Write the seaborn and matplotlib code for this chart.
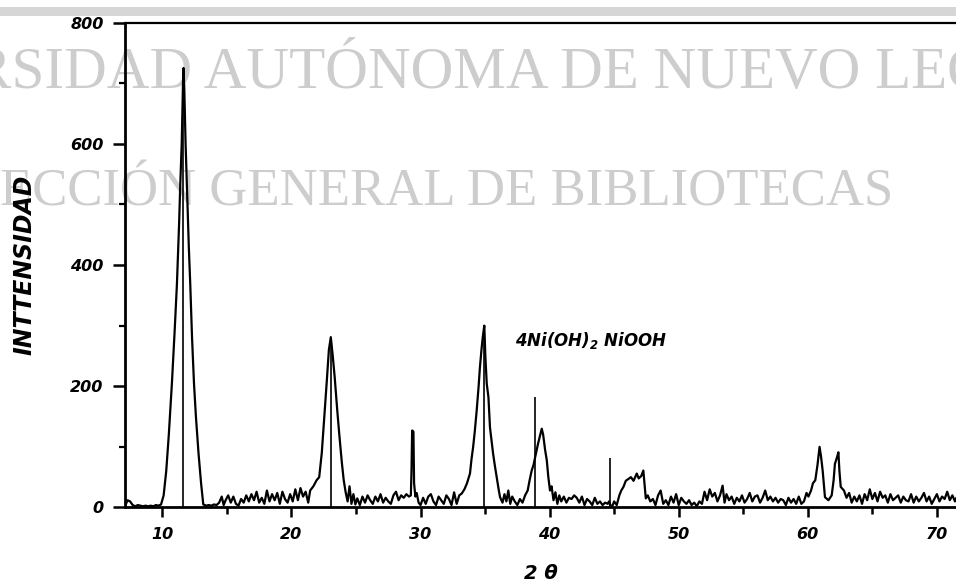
import matplotlib
matplotlib.use("Agg")
import matplotlib.pyplot as plt
import seaborn as sns
import pandas as pd
from matplotlib.patches import Rectangle

# ---------------- data ----------------
two_theta = [
    7.15, 7.3, 7.5, 7.7, 7.9, 8.1, 8.3, 8.5, 8.7, 8.9, 9.1, 9.3, 9.5, 9.7, 9.9,
    10.1, 10.3, 10.5, 10.74, 10.95, 11.13, 11.3, 11.39, 11.5, 11.6, 11.64, 11.7, 11.8, 11.9,
    12.05, 12.16, 12.3, 12.45, 12.6, 12.8, 13.0, 13.17,
    13.4, 13.6, 13.8, 14.0, 14.2, 14.4, 14.6, 14.75, 14.9, 15.1, 15.3, 15.5, 15.7, 15.9,
    16.1, 16.3, 16.5, 16.7, 16.9, 17.1, 17.3, 17.5, 17.7, 17.9, 18.1, 18.3, 18.5, 18.7,
    18.9, 19.1, 19.3, 19.5, 19.7, 19.9, 20.1, 20.3, 20.5, 20.7, 20.9, 21.1, 21.3,
    21.45, 21.7, 21.95, 22.15, 22.35, 22.55, 22.74, 22.9, 23.05, 23.2, 23.35, 23.55, 23.7,
    23.9, 24.05, 24.2, 24.35, 24.5, 24.65, 24.8, 24.95,
    25.1, 25.3, 25.5, 25.7, 25.9, 26.1, 26.3, 26.5, 26.7, 26.9, 27.1, 27.3, 27.5, 27.7,
    27.9, 28.1, 28.3, 28.5, 28.7, 28.9, 29.1, 29.25,
    29.3, 29.35, 29.45, 29.5, 29.6,
    29.7, 29.85, 30.0, 30.2, 30.4, 30.6, 30.8, 31.0, 31.2, 31.4, 31.6, 31.8, 32.0, 32.2,
    32.4, 32.6, 32.8, 33.0,
    33.19, 33.4, 33.6, 33.83, 33.95, 34.07, 34.2, 34.35, 34.5, 34.6, 34.72, 34.82, 34.94,
    35.02, 35.13, 35.26, 35.38, 35.5, 35.62, 35.75, 35.9, 36.05, 36.16,
    36.35, 36.5, 36.65, 36.8, 36.95, 37.1, 37.3, 37.5, 37.7, 37.9, 38.1,
    38.3, 38.45, 38.61, 38.75, 38.8, 38.95, 39.1, 39.25, 39.39, 39.5, 39.65, 39.78, 39.9,
    40.03, 40.15, 40.3, 40.45, 40.6, 40.75,
    40.9, 41.1, 41.3, 41.5, 41.7, 41.9, 42.1, 42.3, 42.5, 42.7, 42.9, 43.1, 43.3, 43.5,
    43.7, 43.9, 44.1, 44.3, 44.5,
    44.6, 44.7, 44.85, 45.0, 45.2, 45.4, 45.55,
    45.72, 45.9, 46.1, 46.3, 46.5, 46.75, 46.9, 47.1, 47.26, 47.35, 47.45,
    47.6, 47.8, 48.0, 48.2, 48.4, 48.6, 48.8, 49.0, 49.2, 49.4, 49.6, 49.8, 50.0, 50.2,
    50.4, 50.6, 50.8, 51.0, 51.2, 51.4, 51.6, 51.8, 52.0, 52.2, 52.4, 52.6, 52.8, 53.0,
    53.2, 53.4, 53.55, 53.7, 53.9, 54.1, 54.3, 54.5, 54.7, 54.9, 55.1, 55.3, 55.5, 55.7,
    55.9, 56.1, 56.3, 56.5, 56.7, 56.9, 57.1, 57.3, 57.5, 57.7, 57.9, 58.1, 58.3, 58.5,
    58.7, 58.9, 59.1, 59.3, 59.5, 59.7, 59.9, 60.05,
    60.25, 60.4, 60.58, 60.75, 60.91, 61.02, 61.15, 61.33, 61.6, 61.85, 62.0, 62.1, 62.25,
    62.37, 62.45, 62.55, 62.8,
    63.0, 63.2, 63.4, 63.6, 63.8, 64.0, 64.2, 64.4, 64.6, 64.8, 65.0, 65.2, 65.4, 65.6,
    65.8, 66.0, 66.2, 66.4, 66.6, 66.8, 67.0, 67.2, 67.4, 67.6, 67.8, 68.0, 68.2, 68.4,
    68.6, 68.8, 69.0, 69.2, 69.4, 69.6, 69.8, 70.0, 70.2, 70.4, 70.6, 70.8, 71.0, 71.2,
    71.4, 71.5,
]
intensity = [
    4, 12, 10, 4, 2, 4, 3, 2, 3, 2, 3, 2, 4, 3, 5,
    20, 60, 120, 205, 290, 369, 470, 534, 600, 700, 725, 690, 600, 534,
    430, 369, 280, 205, 150, 90, 40, 5,
    3, 4, 3, 5, 4, 8, 18, 4, 12, 20, 8, 18, 6, 3,
    14, 8, 20, 10, 22, 12, 26, 8, 16, 6, 28, 10, 22, 12,
    24, 6, 26, 14, 8, 22, 10, 30, 12, 32, 18, 26, 8,
    28, 35, 45, 50, 90, 150, 209, 260, 281, 250, 215, 160, 122,
    75, 45, 25, 10, 35, 6, 22, 5,
    15, 4, 18, 8, 20, 12, 6, 18, 10, 22, 8, 16, 10, 6,
    20, 26, 12, 20, 16, 22, 18, 20,
    60, 127, 125, 40, 18,
    24, 8, 4, 16, 6, 18, 22, 10, 4, 18, 12, 6, 20, 14,
    4, 25, 6, 20,
    23, 30, 40, 56, 80, 99, 125, 160, 200, 231, 260, 281, 300,
    250, 204, 182, 132, 110, 89, 70, 50, 30, 17,
    8, 22, 10, 28, 6, 18, 10, 4, 14, 8, 20,
    28, 45, 61, 70, 75, 90, 105, 118, 130, 120, 95, 78, 50,
    28, 35, 12, 25, 6, 20,
    10, 18, 8, 16, 14, 20, 16, 8, 18, 4, 14, 10, 4, 16,
    6, 10, 4, 8, 6,
    10, 4, 2, 10, 4, 20, 28,
    34, 44, 47, 50, 44, 56, 48, 52, 61, 40, 15,
    20, 10, 14, 4, 20, 28, 6, 12, 4, 18, 8, 22, 4, 16,
    10, 6, 12, 4, 8, 2, 10, 6, 26, 12, 30, 18, 24, 10,
    20, 36, 8, 22, 12, 18, 6, 16, 10, 20, 8, 14, 24, 10,
    18, 20, 8, 16, 28, 12, 18, 10, 16, 8, 14, 12, 4, 16,
    8, 14, 6, 18, 6, 10, 24, 18,
    28, 40, 45, 70, 100, 85, 61, 17, 12, 20, 45, 72, 82,
    91, 60, 34, 28,
    16, 24, 8, 18, 10, 20, 6, 22, 12, 30, 14, 24, 10, 26,
    16, 20, 8, 22, 12, 16, 20, 8, 18, 12, 10, 22, 8, 18,
    10, 16, 24, 10, 18, 6, 14, 22, 10, 18, 14, 26, 12, 20,
    10, 16,
]
stick_pos = [11.6, 23.05, 34.95, 38.87, 44.68]
stick_height = [715, 278, 298, 182, 82]

x_major = [10, 20, 30, 40, 50, 60, 70]
x_minor = [15, 25, 35, 45, 55, 65]
y_major = [0, 200, 400, 600, 800]
y_minor = [100, 300, 500, 700]

ylabel_text = "INTTENSIDAD"
xlabel_text = "2 θ"
annotation_text = "4Ni(OH)$_2$ NiOOH"
watermark_1 = "RSIDAD AUTÓNOMA DE NUEVO LEÓN"
watermark_2 = "ECCIÓN GENERAL DE BIBLIOTECAS"

# ---------------- plotting ----------------
sns.set_theme(style="white")
plt.rcParams["font.family"] = ["DejaVu Sans"]
plt.rcParams["mathtext.fontset"] = "custom"
plt.rcParams["mathtext.rm"] = "DejaVu Sans:italic:bold"
plt.rcParams["mathtext.it"] = "DejaVu Sans:italic:bold"
plt.rcParams["text.color"] = "black"
plt.rcParams["axes.labelcolor"] = "black"
plt.rcParams["xtick.color"] = "black"
plt.rcParams["ytick.color"] = "black"

df = pd.DataFrame({"two_theta": two_theta, "intensity": intensity})

fig = plt.figure(figsize=(9.56, 5.85), dpi=100)
fig.patch.set_facecolor("white")
ax = fig.add_axes([0.1308, 0.1325, 0.8692, 0.829])
ax.patch.set_alpha(0)

# gray scan band at the very top
fig.add_artist(Rectangle((0, 0.9726), 1, 0.0154, transform=fig.transFigure,
                         facecolor="#d6d6d6", edgecolor="none", zorder=0))

# watermark (behind the data)
wm_kw = dict(transform=fig.transFigure, color="#cdcdcd", family="Liberation Serif",
             clip_on=False, zorder=0.5, ha="left", va="baseline")
ax.text(-0.0295, 1 - 88 / 585, watermark_1, fontsize=42.6, **wm_kw)
ax.text(0.0, 1 - 205 / 585, watermark_2, fontsize=38, **wm_kw)

sns.lineplot(data=df, x="two_theta", y="intensity", ax=ax, color="black",
             linewidth=1.6, estimator=None, sort=False, zorder=3)
ax.vlines(stick_pos, 0, stick_height, colors="black", linewidth=1.2, zorder=3)

ax.set_xlim(7.11, 71.48)
ax.set_ylim(0, 800)

ax.set_xticks(x_major)
ax.set_xticks(x_minor, minor=True)
ax.set_yticks(y_major)
ax.set_yticks(y_minor, minor=True)

tick_font = dict(fontsize=11.5, fontweight="bold", fontstyle="italic", color="black")
ax.set_xticklabels([str(v) for v in x_major], **tick_font)
ax.set_yticklabels([str(v) for v in y_major], **tick_font)

ax.tick_params(axis="x", which="major", direction="out", length=7.5, width=1.8,
               pad=6.5, colors="black", bottom=True)
ax.tick_params(axis="x", which="minor", direction="out", length=5, width=1.8,
               bottom=True)
ax.tick_params(axis="y", which="major", direction="out", length=8.5, width=1.8,
               pad=7, colors="black", left=True)
ax.tick_params(axis="y", which="minor", direction="out", length=4, width=1.6,
               left=True)

for side in ["left", "bottom"]:
    ax.spines[side].set_linewidth(2.0)
    ax.spines[side].set_color("black")
ax.spines["top"].set_linewidth(1.6)
ax.spines["top"].set_color("black")
ax.spines["right"].set_visible(False)

ax.set_xlabel(xlabel_text, fontsize=14, fontweight="bold", fontstyle="italic",
              labelpad=16, color="black")
ax.set_ylabel(ylabel_text, fontsize=17, fontweight="bold", fontstyle="italic",
              labelpad=24, color="black")

ax.text(37.32, 267, annotation_text, fontsize=12, fontweight="bold",
        fontstyle="italic", ha="left", va="baseline", zorder=4, color="black")

fig.savefig("out.png", dpi=100)
